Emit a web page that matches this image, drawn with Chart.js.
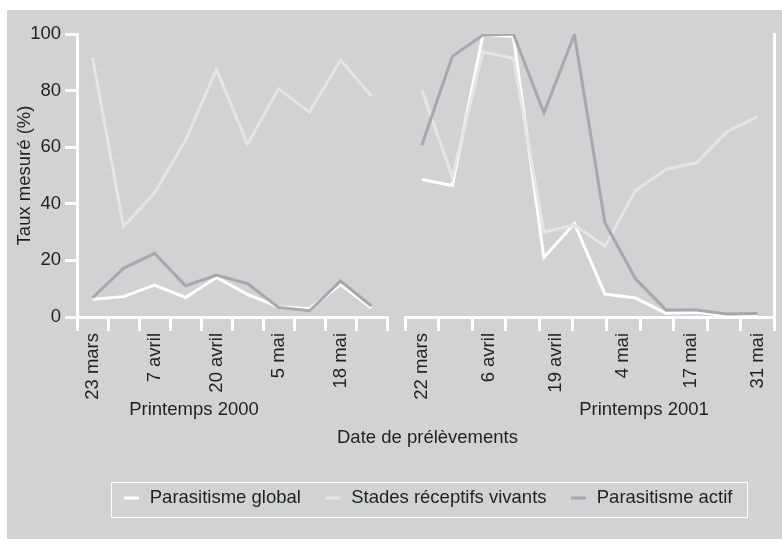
<!DOCTYPE html>
<html lang="fr">
<head>
  <meta charset="UTF-8" />
  <title>Parasitisme - printemps 2000 et 2001</title>
  <script src="https://cdn.jsdelivr.net/npm/chart.js"></script>
  <style>
    body { margin: 0; background: #ffffff; }
    #frame {
      position: absolute;
      left: 7px;
      top: 10px;
      width: 775px;
      height: 529px;
      background: #d1d2d4;
    }
    canvas { position: absolute; top: 0; }
    #base { left: 0; }
    #c2000 { left: 0; }
    #c2001 { left: 390px; }
  </style>
</head>
<body>

  <div id="frame">
    <canvas id="base" width="775" height="529"></canvas>
    <canvas id="c2000" width="390" height="430"></canvas>
    <canvas id="c2001" width="385" height="430"></canvas>
  </div>

  <script>
    const seriesNames = ['Parasitisme global', 'Stades réceptifs vivants', 'Parasitisme actif'];
    const panelNames = ['Printemps 2000', 'Printemps 2001'];

    // printemps 2000 : 10 prélèvements
    const dates2000 = ['23 mars', '', '7 avril', '', '20 avril', '', '5 mai', '', '18 mai', ''];
    const global2000 = [6.3, 7.2, 11.3, 6.9, 14.0, 8.0, 3.5, 3.0, 11.5, 3.2];
    const stades2000 = [91.8, 31.9, 43.9, 62.4, 87.4, 61.0, 80.7, 72.4, 90.8, 78.0];
    const actif2000  = [6.8, 17.2, 22.5, 11.0, 14.8, 11.8, 3.4, 2.2, 12.7, 3.9];

    // printemps 2001 : axe à 11 graduations, 12 prélèvements
    const dates2001 = ['22 mars', '', '6 avril', '', '19 avril', '', '4 mai', '', '17 mai', '', '31 mai'];
    const global2001 = [48.6, 46.5, 99.6, 99.2, 21.0, 33.0, 8.1, 6.7, 1.3, 1.7, 0.5, 0.4];
    const stades2001 = [80.3, 49.5, 93.7, 91.4, 30.0, 32.5, 25.0, 44.7, 52.2, 54.5, 65.5, 70.8];
    const actif2001  = [60.7, 92.1, 99.6, 100, 72.1, 99.8, 33.3, 13.5, 2.5, 2.5, 1.1, 1.2];

    const lineColors = ['#ffffff', '#e4e5e6', '#a6a8ab'];
    const textColor = '#231f20';
    const fontSize = 18.5;

    Chart.defaults.font.family = "'Liberation Sans', Arial, Helvetica, sans-serif";
    Chart.defaults.font.size = fontSize;
    Chart.defaults.color = textColor;

    function makeSets(series, withX) {
      return series.map((vals, k) => ({
        label: seriesNames[k],
        data: withX ? vals.map((v, i) => ({ x: i, y: v })) : vals,
        borderColor: lineColors[k],
        backgroundColor: lineColors[k],
        borderWidth: 3,
        pointRadius: 0,
        tension: 0,
        order: 3 - k,          // "actif" drawn on top, like the original
        xAxisID: withX ? 'xd' : 'x'
      }));
    }

    function dateAxis() {
      return {
        offset: true,
        grid: { offset: true, drawOnChartArea: false, tickLength: 14, color: '#ffffff', lineWidth: 3 },
        border: { color: '#ffffff', width: 3 },
        ticks: { autoSkip: false, maxRotation: 90, minRotation: 90, padding: 2 },
        afterFit: s => { s.height = 123; }
      };
    }

    const common = {
      responsive: false,
      animation: false,
      plugins: { legend: { display: false }, tooltip: { enabled: false } }
    };

    // left panel
    new Chart(document.getElementById('c2000'), {
      type: 'line',
      data: { labels: dates2000, datasets: makeSets([global2000, stades2000, actif2000], false) },
      options: {
        ...common,
        layout: { padding: { top: 24, right: 10 } },
        scales: {
          x: dateAxis(),
          y: {
            min: 0,
            max: 100,
            ticks: { stepSize: 20, padding: 4 },
            grid: { drawOnChartArea: false, tickLength: 12, color: '#ffffff', lineWidth: 3 },
            border: { color: '#ffffff', width: 3 },
            title: { display: true, text: 'Taux mesuré (%)', padding: { top: 7, bottom: 0 } },
            afterFit: s => { s.width = 70; }
          }
        }
      }
    });

    // right panel
    new Chart(document.getElementById('c2001'), {
      type: 'line',
      data: { labels: dates2001, datasets: makeSets([global2001, stades2001, actif2001], true) },
      options: {
        ...common,
        layout: { padding: { top: 24, left: 8, right: 5 } },
        scales: {
          x: dateAxis(),
          xd: { type: 'linear', display: false, min: -0.55, max: 11.55 },
          y: {
            position: 'right',
            min: 0,
            max: 100,
            ticks: { display: false, stepSize: 20 },
            grid: { drawOnChartArea: false, drawTicks: false },
            border: { color: '#ffffff', width: 3 }
          }
        }
      }
    });

    // legend box + panel names
    const frameExtras = {
      id: 'frameExtras',
      afterDraw(chart) {
        const { ctx, legend } = chart;
        const boxes = legend.legendHitBoxes;
        const first = boxes[0];
        const last = boxes[boxes.length - 1];
        const left = Math.round(first.left - 11.5) + 0.5;
        const right = Math.round(last.left + last.width + 14.5) + 0.5;
        const top = Math.round(first.top - 7) + 0.5;
        ctx.save();
        ctx.strokeStyle = '#ffffff';
        ctx.lineWidth = 1;
        ctx.strokeRect(left, top, right - left, 35);

        ctx.font = fontSize + "px 'Liberation Sans', Arial, sans-serif";
        ctx.fillStyle = textColor;
        ctx.textAlign = 'center';
        ctx.textBaseline = 'middle';
        ctx.fillText(panelNames[0], 187, 400);
        ctx.fillText(panelNames[1], 637, 400);
        ctx.restore();
      }
    };

    new Chart(document.getElementById('base'), {
      type: 'line',
      data: {
        datasets: seriesNames.map((name, k) => ({
          label: name,
          data: [],
          borderColor: lineColors[k],
          backgroundColor: lineColors[k],
          borderWidth: 3
        }))
      },
      options: {
        responsive: false,
        animation: false,
        layout: { padding: { left: 66, bottom: 21.75 } },
        scales: { x: { display: false }, y: { display: false } },
        plugins: {
          tooltip: { enabled: false },
          legend: {
            position: 'bottom',
            labels: {
              usePointStyle: true,
              pointStyle: 'line',
              boxWidth: 18,
              boxHeight: 10.6,
              padding: 23
            }
          },
          title: {
            display: true,
            text: 'Date de prélèvements',
            position: 'bottom',
            weight: 500,
            font: { size: fontSize, weight: 'normal' },
            padding: { top: 0, bottom: 16.65 }
          }
        }
      },
      plugins: [frameExtras]
    });
  </script>

</body>
</html>
